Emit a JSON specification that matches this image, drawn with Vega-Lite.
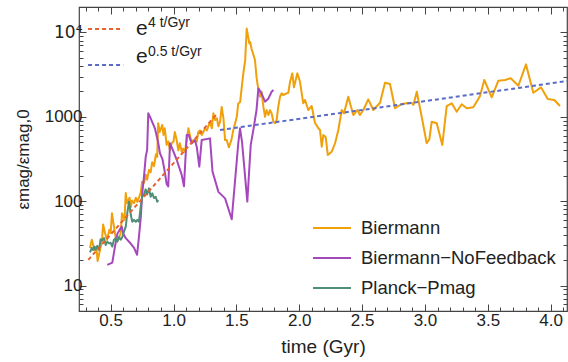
{
  "$schema": "https://vega.github.io/schema/vega-lite/v6.json",
  "width": 488,
  "height": 304,
  "autosize": {"type": "none"},
  "padding": {"left": 79, "top": 7, "right": 1, "bottom": 51},
  "config": {
    "font": "Liberation Sans",
    "view": {"stroke": "#444", "strokeWidth": 1.2},
    "axis": {"grid": false, "domain": false, "tickColor": "#444", "tickWidth": 1, "labelColor": "#222", "titleColor": "#222", "labelFont": "Liberation Sans", "titleFont": "Liberation Sans", "labelFontSize": 17, "titleFontSize": 19, "titleFontWeight": "normal", "labelOverlap": false}
  },
  "datasets": {
    "sim": [
      {"series": "Biermann", "t": 0.335, "v": 28}, {"series": "Biermann", "t": 0.35, "v": 35}, {"series": "Biermann", "t": 0.37, "v": 26.5}, {"series": "Biermann", "t": 0.386, "v": 29}, {"series": "Biermann", "t": 0.396, "v": 19.6}, {"series": "Biermann", "t": 0.41, "v": 24.5}, {"series": "Biermann", "t": 0.43, "v": 33}, {"series": "Biermann", "t": 0.44, "v": 53}, {"series": "Biermann", "t": 0.455, "v": 42}, {"series": "Biermann", "t": 0.47, "v": 35}, {"series": "Biermann", "t": 0.49, "v": 46}, {"series": "Biermann", "t": 0.5, "v": 42}, {"series": "Biermann", "t": 0.51, "v": 72}, {"series": "Biermann", "t": 0.53, "v": 46}, {"series": "Biermann", "t": 0.54, "v": 37}, {"series": "Biermann", "t": 0.56, "v": 35}, {"series": "Biermann", "t": 0.58, "v": 42}, {"series": "Biermann", "t": 0.59, "v": 72}, {"series": "Biermann", "t": 0.61, "v": 60}, {"series": "Biermann", "t": 0.62, "v": 125}, {"series": "Biermann", "t": 0.63, "v": 95}, {"series": "Biermann", "t": 0.65, "v": 110}, {"series": "Biermann", "t": 0.66, "v": 85}, {"series": "Biermann", "t": 0.67, "v": 102}, {"series": "Biermann", "t": 0.686, "v": 95}, {"series": "Biermann", "t": 0.7, "v": 110}, {"series": "Biermann", "t": 0.712, "v": 98}, {"series": "Biermann", "t": 0.725, "v": 110}, {"series": "Biermann", "t": 0.74, "v": 128}, {"series": "Biermann", "t": 0.75, "v": 170}, {"series": "Biermann", "t": 0.765, "v": 165}, {"series": "Biermann", "t": 0.78, "v": 205}, {"series": "Biermann", "t": 0.79, "v": 180}, {"series": "Biermann", "t": 0.805, "v": 235}, {"series": "Biermann", "t": 0.818, "v": 220}, {"series": "Biermann", "t": 0.83, "v": 290}, {"series": "Biermann", "t": 0.845, "v": 260}, {"series": "Biermann", "t": 0.86, "v": 360}, {"series": "Biermann", "t": 0.87, "v": 335}, {"series": "Biermann", "t": 0.878, "v": 840}, {"series": "Biermann", "t": 0.89, "v": 660}, {"series": "Biermann", "t": 0.91, "v": 800}, {"series": "Biermann", "t": 0.92, "v": 610}, {"series": "Biermann", "t": 0.93, "v": 730}, {"series": "Biermann", "t": 0.945, "v": 465}, {"series": "Biermann", "t": 0.958, "v": 510}, {"series": "Biermann", "t": 0.972, "v": 400}, {"series": "Biermann", "t": 0.985, "v": 485}, {"series": "Biermann", "t": 1.0, "v": 510}, {"series": "Biermann", "t": 1.01, "v": 660}, {"series": "Biermann", "t": 1.025, "v": 530}, {"series": "Biermann", "t": 1.038, "v": 400}, {"series": "Biermann", "t": 1.05, "v": 485}, {"series": "Biermann", "t": 1.065, "v": 385}, {"series": "Biermann", "t": 1.077, "v": 420}, {"series": "Biermann", "t": 1.09, "v": 385}, {"series": "Biermann", "t": 1.105, "v": 530}, {"series": "Biermann", "t": 1.118, "v": 730}, {"series": "Biermann", "t": 1.13, "v": 610}, {"series": "Biermann", "t": 1.145, "v": 485}, {"series": "Biermann", "t": 1.157, "v": 530}, {"series": "Biermann", "t": 1.17, "v": 510}, {"series": "Biermann", "t": 1.185, "v": 510}, {"series": "Biermann", "t": 1.197, "v": 660}, {"series": "Biermann", "t": 1.21, "v": 690}, {"series": "Biermann", "t": 1.225, "v": 610}, {"series": "Biermann", "t": 1.237, "v": 660}, {"series": "Biermann", "t": 1.25, "v": 730}, {"series": "Biermann", "t": 1.265, "v": 690}, {"series": "Biermann", "t": 1.277, "v": 770}, {"series": "Biermann", "t": 1.29, "v": 870}, {"series": "Biermann", "t": 1.305, "v": 730}, {"series": "Biermann", "t": 1.317, "v": 1100}, {"series": "Biermann", "t": 1.33, "v": 916}, {"series": "Biermann", "t": 1.345, "v": 960}, {"series": "Biermann", "t": 1.357, "v": 770}, {"series": "Biermann", "t": 1.37, "v": 870}, {"series": "Biermann", "t": 1.383, "v": 1310}, {"series": "Biermann", "t": 1.397, "v": 960}, {"series": "Biermann", "t": 1.41, "v": 530}, {"series": "Biermann", "t": 1.423, "v": 530}, {"series": "Biermann", "t": 1.44, "v": 435}, {"series": "Biermann", "t": 1.46, "v": 530}, {"series": "Biermann", "t": 1.475, "v": 690}, {"series": "Biermann", "t": 1.49, "v": 840}, {"series": "Biermann", "t": 1.503, "v": 1000}, {"series": "Biermann", "t": 1.515, "v": 1440}, {"series": "Biermann", "t": 1.53, "v": 1500}, {"series": "Biermann", "t": 1.543, "v": 2270}, {"series": "Biermann", "t": 1.555, "v": 3260}, {"series": "Biermann", "t": 1.57, "v": 4700}, {"series": "Biermann", "t": 1.582, "v": 11100}, {"series": "Biermann", "t": 1.603, "v": 7400}, {"series": "Biermann", "t": 1.61, "v": 7700}, {"series": "Biermann", "t": 1.62, "v": 6450}, {"series": "Biermann", "t": 1.648, "v": 4700}, {"series": "Biermann", "t": 1.66, "v": 2980}, {"series": "Biermann", "t": 1.675, "v": 2080}, {"series": "Biermann", "t": 1.688, "v": 1730}, {"series": "Biermann", "t": 1.7, "v": 1980}, {"series": "Biermann", "t": 1.715, "v": 1310}, {"series": "Biermann", "t": 1.728, "v": 1000}, {"series": "Biermann", "t": 1.74, "v": 1200}, {"series": "Biermann", "t": 1.755, "v": 1050}, {"series": "Biermann", "t": 1.767, "v": 1200}, {"series": "Biermann", "t": 1.78, "v": 1100}, {"series": "Biermann", "t": 1.795, "v": 870}, {"series": "Biermann", "t": 1.808, "v": 840}, {"series": "Biermann", "t": 1.82, "v": 916}, {"series": "Biermann", "t": 1.833, "v": 1310}, {"series": "Biermann", "t": 1.847, "v": 1730}, {"series": "Biermann", "t": 1.861, "v": 1897}, {"series": "Biermann", "t": 1.873, "v": 1812}, {"series": "Biermann", "t": 1.9, "v": 1897}, {"series": "Biermann", "t": 1.913, "v": 1928}, {"series": "Biermann", "t": 1.927, "v": 2600}, {"series": "Biermann", "t": 1.945, "v": 3272}, {"series": "Biermann", "t": 1.958, "v": 2234}, {"series": "Biermann", "t": 1.985, "v": 3272}, {"series": "Biermann", "t": 2.006, "v": 2600}, {"series": "Biermann", "t": 2.032, "v": 1446}, {"series": "Biermann", "t": 2.046, "v": 1582}, {"series": "Biermann", "t": 2.072, "v": 1203}, {"series": "Biermann", "t": 2.099, "v": 1342}, {"series": "Biermann", "t": 2.125, "v": 851}, {"series": "Biermann", "t": 2.152, "v": 731}, {"series": "Biermann", "t": 2.165, "v": 698}, {"series": "Biermann", "t": 2.179, "v": 443}, {"series": "Biermann", "t": 2.192, "v": 609}, {"series": "Biermann", "t": 2.211, "v": 572}, {"series": "Biermann", "t": 2.227, "v": 353}, {"series": "Biermann", "t": 2.258, "v": 386}, {"series": "Biermann", "t": 2.285, "v": 486}, {"series": "Biermann", "t": 2.311, "v": 698}, {"series": "Biermann", "t": 2.338, "v": 1203}, {"series": "Biermann", "t": 2.356, "v": 1099}, {"series": "Biermann", "t": 2.39, "v": 1729}, {"series": "Biermann", "t": 2.43, "v": 1049}, {"series": "Biermann", "t": 2.462, "v": 1203}, {"series": "Biermann", "t": 2.483, "v": 1049}, {"series": "Biermann", "t": 2.51, "v": 1203}, {"series": "Biermann", "t": 2.549, "v": 1611}, {"series": "Biermann", "t": 2.589, "v": 1203}, {"series": "Biermann", "t": 2.643, "v": 1469}, {"series": "Biermann", "t": 2.682, "v": 2535}, {"series": "Biermann", "t": 2.722, "v": 2445}, {"series": "Biermann", "t": 2.762, "v": 1262}, {"series": "Biermann", "t": 2.815, "v": 1417}, {"series": "Biermann", "t": 2.855, "v": 1446}, {"series": "Biermann", "t": 2.895, "v": 1469}, {"series": "Biermann", "t": 2.908, "v": 1380}, {"series": "Biermann", "t": 2.935, "v": 1983}, {"series": "Biermann", "t": 2.974, "v": 1002}, {"series": "Biermann", "t": 3.014, "v": 486}, {"series": "Biermann", "t": 3.035, "v": 542}, {"series": "Biermann", "t": 3.054, "v": 875}, {"series": "Biermann", "t": 3.094, "v": 838}, {"series": "Biermann", "t": 3.138, "v": 464}, {"series": "Biermann", "t": 3.173, "v": 1342}, {"series": "Biermann", "t": 3.213, "v": 1446}, {"series": "Biermann", "t": 3.253, "v": 1148}, {"series": "Biermann", "t": 3.292, "v": 1406}, {"series": "Biermann", "t": 3.332, "v": 1262}, {"series": "Biermann", "t": 3.385, "v": 1294}, {"series": "Biermann", "t": 3.438, "v": 1762}, {"series": "Biermann", "t": 3.472, "v": 2730}, {"series": "Biermann", "t": 3.531, "v": 1703}, {"series": "Biermann", "t": 3.584, "v": 2675}, {"series": "Biermann", "t": 3.637, "v": 2730}, {"series": "Biermann", "t": 3.682, "v": 2859}, {"series": "Biermann", "t": 3.743, "v": 2335}, {"series": "Biermann", "t": 3.804, "v": 4180}, {"series": "Biermann", "t": 3.862, "v": 1928}, {"series": "Biermann", "t": 3.923, "v": 2234}, {"series": "Biermann", "t": 3.977, "v": 1626}, {"series": "Biermann", "t": 4.029, "v": 1582}, {"series": "Biermann", "t": 4.074, "v": 1342},
      {"series": "Biermann−NoFeedback", "t": 0.473, "v": 17.6}, {"series": "Biermann−NoFeedback", "t": 0.513, "v": 18.7}, {"series": "Biermann−NoFeedback", "t": 0.534, "v": 29}, {"series": "Biermann−NoFeedback", "t": 0.553, "v": 41}, {"series": "Biermann−NoFeedback", "t": 0.572, "v": 46}, {"series": "Biermann−NoFeedback", "t": 0.588, "v": 50}, {"series": "Biermann−NoFeedback", "t": 0.6, "v": 41}, {"series": "Biermann−NoFeedback", "t": 0.62, "v": 36.5}, {"series": "Biermann−NoFeedback", "t": 0.659, "v": 31.5}, {"series": "Biermann−NoFeedback", "t": 0.686, "v": 28}, {"series": "Biermann−NoFeedback", "t": 0.71, "v": 23.2}, {"series": "Biermann−NoFeedback", "t": 0.725, "v": 38}, {"series": "Biermann−NoFeedback", "t": 0.74, "v": 66}, {"series": "Biermann−NoFeedback", "t": 0.751, "v": 124}, {"series": "Biermann−NoFeedback", "t": 0.765, "v": 195}, {"series": "Biermann−NoFeedback", "t": 0.779, "v": 340}, {"series": "Biermann−NoFeedback", "t": 0.79, "v": 405}, {"series": "Biermann−NoFeedback", "t": 0.799, "v": 1100}, {"series": "Biermann−NoFeedback", "t": 0.818, "v": 960}, {"series": "Biermann−NoFeedback", "t": 0.852, "v": 730}, {"series": "Biermann−NoFeedback", "t": 0.879, "v": 485}, {"series": "Biermann−NoFeedback", "t": 0.892, "v": 370}, {"series": "Biermann−NoFeedback", "t": 0.913, "v": 310}, {"series": "Biermann−NoFeedback", "t": 0.932, "v": 215}, {"series": "Biermann−NoFeedback", "t": 0.945, "v": 160}, {"series": "Biermann−NoFeedback", "t": 0.958, "v": 150}, {"series": "Biermann−NoFeedback", "t": 0.972, "v": 485}, {"series": "Biermann−NoFeedback", "t": 0.99, "v": 420}, {"series": "Biermann−NoFeedback", "t": 1.025, "v": 310}, {"series": "Biermann−NoFeedback", "t": 1.065, "v": 205}, {"series": "Biermann−NoFeedback", "t": 1.083, "v": 150}, {"series": "Biermann−NoFeedback", "t": 1.105, "v": 610}, {"series": "Biermann−NoFeedback", "t": 1.12, "v": 610}, {"series": "Biermann−NoFeedback", "t": 1.145, "v": 485}, {"series": "Biermann−NoFeedback", "t": 1.17, "v": 530}, {"series": "Biermann−NoFeedback", "t": 1.185, "v": 440}, {"series": "Biermann−NoFeedback", "t": 1.205, "v": 257}, {"series": "Biermann−NoFeedback", "t": 1.224, "v": 530}, {"series": "Biermann−NoFeedback", "t": 1.29, "v": 555}, {"series": "Biermann−NoFeedback", "t": 1.31, "v": 225}, {"series": "Biermann−NoFeedback", "t": 1.357, "v": 129}, {"series": "Biermann−NoFeedback", "t": 1.41, "v": 108}, {"series": "Biermann−NoFeedback", "t": 1.463, "v": 61}, {"series": "Biermann−NoFeedback", "t": 1.515, "v": 486}, {"series": "Biermann−NoFeedback", "t": 1.529, "v": 730}, {"series": "Biermann−NoFeedback", "t": 1.545, "v": 500}, {"series": "Biermann−NoFeedback", "t": 1.587, "v": 99}, {"series": "Biermann−NoFeedback", "t": 1.614, "v": 464}, {"series": "Biermann−NoFeedback", "t": 1.635, "v": 700}, {"series": "Biermann−NoFeedback", "t": 1.66, "v": 1200}, {"series": "Biermann−NoFeedback", "t": 1.675, "v": 2170}, {"series": "Biermann−NoFeedback", "t": 1.7, "v": 1900}, {"series": "Biermann−NoFeedback", "t": 1.728, "v": 1510}, {"series": "Biermann−NoFeedback", "t": 1.755, "v": 1650}, {"series": "Biermann−NoFeedback", "t": 1.78, "v": 1980}, {"series": "Biermann−NoFeedback", "t": 1.795, "v": 2080},
      {"series": "Planck−Pmag", "t": 0.335, "v": 24.7}, {"series": "Planck−Pmag", "t": 0.35, "v": 28}, {"series": "Planck−Pmag", "t": 0.36, "v": 26.5}, {"series": "Planck−Pmag", "t": 0.37, "v": 29}, {"series": "Planck−Pmag", "t": 0.38, "v": 26.5}, {"series": "Planck−Pmag", "t": 0.393, "v": 29.5}, {"series": "Planck−Pmag", "t": 0.407, "v": 26.5}, {"series": "Planck−Pmag", "t": 0.42, "v": 35.5}, {"series": "Planck−Pmag", "t": 0.433, "v": 34.3}, {"series": "Planck−Pmag", "t": 0.447, "v": 36.5}, {"series": "Planck−Pmag", "t": 0.46, "v": 30.2}, {"series": "Planck−Pmag", "t": 0.473, "v": 33.2}, {"series": "Planck−Pmag", "t": 0.487, "v": 31.6}, {"series": "Planck−Pmag", "t": 0.5, "v": 32.1}, {"series": "Planck−Pmag", "t": 0.513, "v": 29}, {"series": "Planck−Pmag", "t": 0.526, "v": 35}, {"series": "Planck−Pmag", "t": 0.54, "v": 36.5}, {"series": "Planck−Pmag", "t": 0.553, "v": 33.2}, {"series": "Planck−Pmag", "t": 0.566, "v": 37.5}, {"series": "Planck−Pmag", "t": 0.58, "v": 35}, {"series": "Planck−Pmag", "t": 0.592, "v": 37.5}, {"series": "Planck−Pmag", "t": 0.606, "v": 43.6}, {"series": "Planck−Pmag", "t": 0.62, "v": 50}, {"series": "Planck−Pmag", "t": 0.632, "v": 72}, {"series": "Planck−Pmag", "t": 0.646, "v": 98.6}, {"series": "Planck−Pmag", "t": 0.66, "v": 69}, {"series": "Planck−Pmag", "t": 0.672, "v": 57}, {"series": "Planck−Pmag", "t": 0.686, "v": 60}, {"series": "Planck−Pmag", "t": 0.7, "v": 57}, {"series": "Planck−Pmag", "t": 0.712, "v": 60}, {"series": "Planck−Pmag", "t": 0.725, "v": 57}, {"series": "Planck−Pmag", "t": 0.739, "v": 86}, {"series": "Planck−Pmag", "t": 0.751, "v": 113}, {"series": "Planck−Pmag", "t": 0.765, "v": 120}, {"series": "Planck−Pmag", "t": 0.778, "v": 138}, {"series": "Planck−Pmag", "t": 0.79, "v": 120}, {"series": "Planck−Pmag", "t": 0.805, "v": 142}, {"series": "Planck−Pmag", "t": 0.818, "v": 113}, {"series": "Planck−Pmag", "t": 0.831, "v": 124}, {"series": "Planck−Pmag", "t": 0.845, "v": 109}, {"series": "Planck−Pmag", "t": 0.858, "v": 113}, {"series": "Planck−Pmag", "t": 0.87, "v": 98.6}, {"series": "Planck−Pmag", "t": 0.879, "v": 103}
    ],
    "fits": [
      {"kind": "e4", "seg": "fit4", "t": 0.322, "v": 20.2}, {"kind": "e4", "seg": "fit4", "t": 1.34, "v": 1060},
      {"kind": "e05", "seg": "fit05", "t": 1.37, "v": 698}, {"kind": "e05", "seg": "fit05", "t": 4.133, "v": 2654},
      {"kind": "e4", "seg": "key4", "t": 0.32, "v": 10940}, {"kind": "e4", "seg": "key4", "t": 0.6, "v": 10940},
      {"kind": "e05", "seg": "key05", "t": 0.32, "v": 4100}, {"kind": "e05", "seg": "key05", "t": 0.6, "v": 4100}
    ],
    "keys": [
      {"txt": "e", "part": "base", "t": 0.701, "v": 9290},
      {"txt": "4 t/Gyr", "part": "exp", "t": 0.797, "v": 11550},
      {"txt": "e", "part": "base", "t": 0.701, "v": 4340},
      {"txt": "0.5 t/Gyr", "part": "exp", "t": 0.797, "v": 5250}
    ]
  },
  "layer": [
    {
      "data": {"name": "sim"},
      "mark": {"type": "line", "strokeWidth": 2, "strokeJoin": "round"},
      "encoding": {
        "x": {"field": "t", "type": "quantitative", "scale": {"domain": [0.248, 4.13], "nice": false, "zero": false},
          "axis": {"orient": "bottom", "title": "time (Gyr)", "titlePadding": 6,
            "values": [0.3,0.4,0.5,0.6,0.7,0.8,0.9,1.0,1.1,1.2,1.3,1.4,1.5,1.6,1.7,1.8,1.9,2.0,2.1,2.2,2.3,2.4,2.5,2.6,2.7,2.8,2.9,3.0,3.1,3.2,3.3,3.4,3.5,3.6,3.7,3.8,3.9,4.0,4.1],
            "labelExpr": "abs(datum.value*2 - round(datum.value*2)) < 0.001 ? format(datum.value, '.1f') : ''",
            "tickSize": {"condition": {"test": "abs(datum.value*2 - round(datum.value*2)) < 0.001", "value": -7}, "value": -4},
            "labelPadding": 8}},
        "y": {"field": "v", "type": "quantitative", "scale": {"type": "log", "domain": [5, 20000], "nice": false},
          "axis": {"orient": "left", "title": "εmag/εmag,0", "titlePadding": 12, "titleFontSize": 17,
            "values": [6,7,8,9,10,20,30,40,50,60,70,80,90,100,200,300,400,500,600,700,800,900,1000,2000,3000,4000,5000,6000,7000,8000,9000,10000],
            "labelExpr": "datum.value == 10000 ? '10⁴' : (indexof([10,100,1000], datum.value) >= 0 ? format(datum.value, 'd') : '')",
            "labelFont": {"condition": {"test": "datum.value == 10000", "value": "DejaVu Sans"}, "value": "Liberation Sans"},
            "tickSize": {"condition": {"test": "indexof([10,100,1000,10000], datum.value) >= 0", "value": -7}, "value": -4},
            "labelPadding": 4}},
        "color": {"field": "series", "type": "nominal",
          "scale": {"domain": ["Biermann", "Biermann−NoFeedback", "Planck−Pmag"], "range": ["#f0a00a", "#a648bd", "#4f8f77"]},
          "legend": {"orient": "none", "legendX": 233, "legendY": 201, "title": null, "symbolType": "stroke", "symbolSize": 1444, "symbolStrokeWidth": 2, "labelFontSize": 18.5, "labelFont": "Liberation Sans", "labelColor": "#222", "labelLimit": 400, "rowPadding": -6, "labelOffset": 9}}
      }
    },
    {
      "data": {"name": "fits"},
      "mark": {"type": "line", "strokeWidth": 2, "strokeDash": [4, 3]},
      "encoding": {
        "x": {"field": "t", "type": "quantitative", "scale": {"domain": [0.248, 4.13], "nice": false, "zero": false},
          "axis": {"orient": "top", "title": null, "labels": false,
            "values": [0.3,0.4,0.5,0.6,0.7,0.8,0.9,1.0,1.1,1.2,1.3,1.4,1.5,1.6,1.7,1.8,1.9,2.0,2.1,2.2,2.3,2.4,2.5,2.6,2.7,2.8,2.9,3.0,3.1,3.2,3.3,3.4,3.5,3.6,3.7,3.8,3.9,4.0,4.1],
            "tickSize": {"condition": {"test": "abs(datum.value*2 - round(datum.value*2)) < 0.001", "value": -7}, "value": -4}}},
        "y": {"field": "v", "type": "quantitative", "scale": {"type": "log", "domain": [5, 20000], "nice": false},
          "axis": {"orient": "right", "title": null, "labels": false,
            "values": [6,7,8,9,10,20,30,40,50,60,70,80,90,100,200,300,400,500,600,700,800,900,1000,2000,3000,4000,5000,6000,7000,8000,9000,10000],
            "tickSize": {"condition": {"test": "indexof([10,100,1000,10000], datum.value) >= 0", "value": -7}, "value": -4}}},
        "color": {"field": "kind", "type": "nominal", "scale": {"domain": ["e4", "e05"], "range": ["#e8602e", "#5a6bc8"]}, "legend": null},
        "detail": {"field": "seg"}
      }
    },
    {
      "data": {"name": "keys"},
      "mark": {"type": "text", "align": "left", "baseline": "alphabetic", "font": "Liberation Sans", "color": "#222"},
      "encoding": {
        "x": {"field": "t", "type": "quantitative", "scale": {"domain": [0.248, 4.13], "nice": false, "zero": false}, "axis": null},
        "y": {"field": "v", "type": "quantitative", "scale": {"type": "log", "domain": [5, 20000], "nice": false}, "axis": null},
        "text": {"field": "txt"},
        "size": {"field": "part", "type": "ordinal", "scale": {"domain": ["base", "exp"], "range": [21, 14]}, "legend": null}
      }
    }
  ],
  "resolve": {"axis": {"x": "independent", "y": "independent"}, "scale": {"color": "independent"}}
}
